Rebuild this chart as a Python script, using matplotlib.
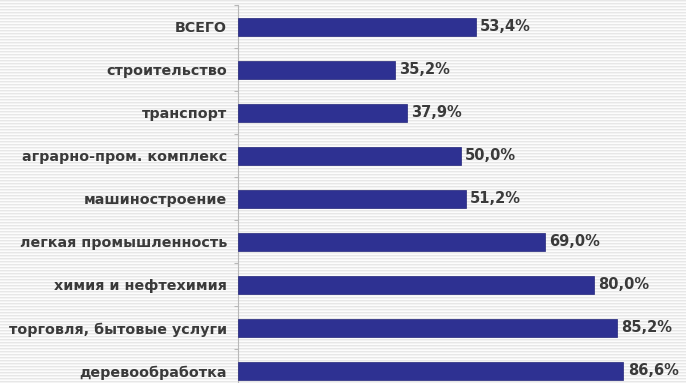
import numpy as np
import matplotlib
matplotlib.use("Agg")
import matplotlib.pyplot as plt
from matplotlib.ticker import FixedLocator, NullFormatter

categories = [
    "ВСЕГО",
    "строительство",
    "транспорт",
    "аграрно-пром. комплекс",
    "машиностроение",
    "легкая промышленность",
    "химия и нефтехимия",
    "торговля, бытовые услуги",
    "деревообработка",
]
values = [53.4, 35.2, 37.9, 50.0, 51.2, 69.0, 80.0, 85.2, 86.6]
value_labels = ["53,4%", "35,2%", "37,9%", "50,0%", "51,2%", "69,0%", "80,0%", "85,2%", "86,6%"]

W, H, DPI = 686, 383, 100
fig = plt.figure(figsize=(W / DPI, H / DPI), dpi=DPI)

# striped light-grey backdrop
bg = fig.add_axes([0, 0, 1, 1])
levels = np.array([0.905, 0.955, 0.985])
stripe = levels[np.arange(H) % 3]
img = np.repeat(stripe[:, None], 4, axis=1)
bg.imshow(img, cmap="gray", vmin=0, vmax=1, aspect="auto", interpolation="nearest")
bg.set_axis_off()

ax = fig.add_axes([238 / W, 0, 445 / W, (H - 5.5) / H])
ax.patch.set_alpha(0)

y = np.arange(len(categories))
ax.barh(y, values, height=0.41, color="#2E3192", edgecolor="#24267a", linewidth=0.5, zorder=3)

for yi, v, lab in zip(y, values, value_labels):
    ax.text(v + 1.0, yi, lab, va="center", ha="left", fontsize=10.5,
            fontweight="bold", color="#3a3a3a", zorder=4)

ax.set_xlim(0, 100)
ax.set_ylim(8.28, -0.5)

ax.set_yticks(y)
ax.set_yticklabels(categories, fontsize=10.3, fontweight="bold", color="#3a3a3a")
ax.tick_params(axis="y", which="major", length=0, pad=8)
ax.yaxis.set_minor_locator(FixedLocator(np.arange(-0.5, len(categories), 1.0)))
ax.yaxis.set_minor_formatter(NullFormatter())
ax.tick_params(axis="y", which="minor", length=3, width=0.8, color="#b8b8b8")

ax.set_xticks([])
for side in ["top", "right", "bottom"]:
    ax.spines[side].set_visible(False)
ax.spines["left"].set_color("#b8b8b8")
ax.spines["left"].set_linewidth(0.8)

fig.savefig("out.png", dpi=DPI)
